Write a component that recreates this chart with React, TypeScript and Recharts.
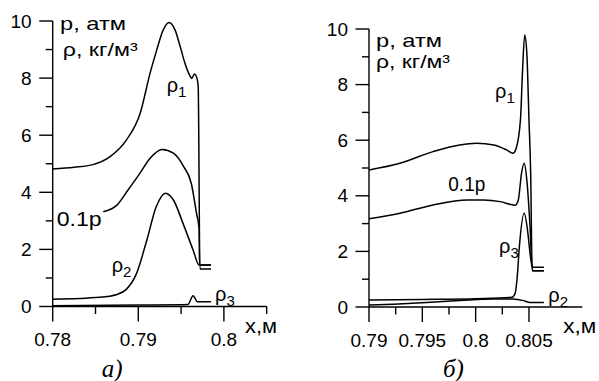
import { LineChart, Line, XAxis, YAxis } from 'recharts'

// panel а) — x, м
const xRho1A = [0.78, 0.7825, 0.7847, 0.7867, 0.7886, 0.7902, 0.7914, 0.79215, 0.7929, 0.7936, 0.7943, 0.7949, 0.79545, 0.796, 0.79625, 0.79655, 0.7968, 0.797, 0.7972, 0.7985]
const rho1A = [4.82, 4.88, 4.97, 5.25, 5.83, 6.75, 8.2, 8.98, 9.68, 9.95, 9.68, 9.1, 8.52, 8.1, 7.99, 8.14, 8.05, 7.7, 1.31, 1.31]
const xPA = [0.7859, 0.7875, 0.7888, 0.7902, 0.7914, 0.7928, 0.7941, 0.7953, 0.7962, 0.7968, 0.7971, 0.79715, 0.7985]
const pA = [3.32, 3.55, 4.08, 4.67, 5.2, 5.5, 5.37, 4.9, 4.3, 3.26, 2.74, 1.45, 1.45]
const xRho2A = [0.78, 0.7855, 0.7875, 0.7886, 0.7898, 0.791, 0.7921, 0.7932, 0.7941, 0.7953, 0.7964, 0.7971, 0.7985]
const rho2A = [0.25, 0.32, 0.42, 0.6, 1.16, 2.33, 3.5, 3.97, 3.73, 2.85, 1.98, 1.45, 1.45]
const xRho3A = [0.78, 0.79, 0.7958, 0.7964, 0.7969, 0.7985]
const rho3A = [0.03, 0.05, 0.07, 0.38, 0.17, 0.17]

// panel б)
const xRho1B = [0.79, 0.7929, 0.796, 0.7985, 0.8001, 0.8017, 0.8029, 0.8035, 0.8038, 0.8042, 0.8044, 0.8046, 0.8048, 0.805, 0.80516, 0.8053, 0.8064]
const rho1B = [4.93, 5.17, 5.59, 5.83, 5.89, 5.83, 5.65, 5.53, 5.71, 6.73, 8.53, 9.78, 9.12, 6.73, 4.8, 1.3, 1.3]
const xPB = [0.79, 0.7929, 0.796, 0.7992, 0.8007, 0.8023, 0.8035, 0.8037, 0.804, 0.8043, 0.80455, 0.8048, 0.8051, 0.8053, 0.8064]
const pB = [3.17, 3.37, 3.67, 3.85, 3.85, 3.79, 3.67, 3.66, 3.85, 4.81, 5.17, 4.57, 2.89, 1.43, 1.43]
const xRho3B = [0.79, 0.795, 0.8, 0.8034, 0.8037, 0.8039, 0.8041, 0.80455, 0.8049, 0.8051, 0.8054, 0.8064]
const rho3B = [0.25, 0.27, 0.3, 0.35, 0.49, 1.09, 2.17, 3.37, 2.65, 1.93, 1.3, 1.3]
const xRho2B = [0.79, 0.7923, 0.7954, 0.7985, 0.8017, 0.8035, 0.8045, 0.8051, 0.8064]
const rho2B = [0.07, 0.1, 0.16, 0.23, 0.29, 0.29, 0.23, 0.16, 0.16]

const xTicksA = [0.78, 0.785, 0.79, 0.795, 0.8, 0.805]
const xMajorA = [0.78, 0.79, 0.8]
const xTicksB = [0.79, 0.7925, 0.795, 0.7975, 0.8, 0.8025, 0.805]
const xMajorB = [0.79, 0.795, 0.8, 0.805]
const yTicks = [0, 1, 2, 3, 4, 5, 6, 7, 8, 9, 10]

const FONT = '"Liberation Sans", Arial, sans-serif'
const SERIF = '"Liberation Serif", "Times New Roman", serif'

const zip = (xs: number[], vs: number[]) => xs.map((x, i) => ({ x, v: vs[i] }))

const isIn = (list: number[], v: number) => list.some(m => Math.abs(m - v) < 1e-7)

const XTick = ({ x, y, payload, majors }: any) => {
  const major = isIn(majors, payload.value)
  return (
    <g>
      <line x1={x} y1={y} x2={x} y2={y + (major ? 15 : 7.5)} stroke="#000" strokeWidth={1.4} />
      {major && (
        <text x={x} y={y + 39.8} textAnchor="middle" fontSize={19} fontFamily={FONT} fill="#000">
          {String(Number(payload.value.toFixed(4)))}
        </text>
      )}
    </g>
  )
}

const YTick = ({ x, y, payload }: any) => {
  const major = payload.value % 2 === 0
  return (
    <g>
      <line x1={x - (major ? 13.5 : 7)} y1={y} x2={x} y2={y} stroke="#000" strokeWidth={1.4} />
      {major && (
        <text x={x - 21} y={y + 6.6} textAnchor="end" fontSize={19} fontFamily={FONT} fill="#000">
          {payload.value}
        </text>
      )}
    </g>
  )
}

const Panel = ({ left, width, margin, domain, ticks, majors, series }: any) => (
  <div style={{ position: 'absolute', left, top: 0 }}>
    <LineChart width={width} height={381} margin={margin}>
      <XAxis
        type="number"
        dataKey="x"
        domain={domain}
        ticks={ticks}
        interval={0}
        allowDataOverflow
        height={30}
        tickSize={0}
        tickMargin={0}
        axisLine={{ stroke: '#000', strokeWidth: 1.4 }}
        tick={(p: any) => <XTick {...p} majors={majors} />}
      />
      <YAxis
        type="number"
        dataKey="v"
        domain={[0, 10]}
        ticks={yTicks}
        interval={0}
        allowDataOverflow
        width={40}
        tickSize={0}
        tickMargin={0}
        axisLine={{ stroke: '#000', strokeWidth: 1.4 }}
        tick={(p: any) => <YTick {...p} />}
      />
      {series.map((s: any, i: number) => (
        <Line
          key={i}
          data={s}
          dataKey="v"
          type="monotone"
          stroke="#000"
          strokeWidth={1.5}
          dot={false}
          isAnimationActive={false}
        />
      ))}
    </LineChart>
  </div>
)

const Rho = ({ x, y, sub }: { x: number; y: number; sub: string }) => (
  <text x={x} y={y} fontSize={20} fontFamily={FONT} fill="#000">
    ρ<tspan fontSize={15} dy={5}>{sub}</tspan>
  </text>
)

export default function App() {
  return (
    <div style={{ position: 'absolute', left: 0, top: 0, width: 599, height: 381, background: '#fff' }}>
      <Panel
        left={0}
        width={300}
        margin={{ top: 21, left: 12.7, right: 33.3, bottom: 44.5 }}
        domain={[0.78, 0.805]}
        ticks={xTicksA}
        majors={xMajorA}
        series={[zip(xRho1A, rho1A), zip(xPA, pA), zip(xRho2A, rho2A), zip(xRho3A, rho3A)]}
      />
      <Panel
        left={300}
        width={299}
        margin={{ top: 29, left: 29, right: 16.7, bottom: 44 }}
        domain={[0.79, 0.81]}
        ticks={xTicksB}
        majors={xMajorB}
        series={[zip(xRho1B, rho1B), zip(xPB, pB), zip(xRho3B, rho3B), zip(xRho2B, rho2B)]}
      />
      <svg width={599} height={381} style={{ position: 'absolute', left: 0, top: 0, pointerEvents: 'none' }}>
        <text x={60} y={29.5} fontSize={19} fontFamily={FONT} textLength={66} lengthAdjust="spacingAndGlyphs">p, атм</text>
        <text x={62.7} y={56} fontSize={19} fontFamily={FONT} textLength={75} lengthAdjust="spacingAndGlyphs">ρ, кг/м³</text>
        <text x={376} y={46.7} fontSize={19} fontFamily={FONT} textLength={66} lengthAdjust="spacingAndGlyphs">p, атм</text>
        <text x={376} y={68} fontSize={19} fontFamily={FONT} textLength={74} lengthAdjust="spacingAndGlyphs">ρ, кг/м³</text>

        <Rho x={166.7} y={91.5} sub="1" />
        <Rho x={111.7} y={271.5} sub="2" />
        <Rho x={215} y={300.5} sub="3" />
        <text x={56.7} y={225.5} fontSize={21} fontFamily={FONT} textLength={45} lengthAdjust="spacingAndGlyphs">0.1p</text>

        <Rho x={495} y={97.5} sub="1" />
        <Rho x={499} y={253} sub="3" />
        <Rho x={548.3} y={301.5} sub="2" />
        <text x={448.3} y={190.5} fontSize={20} fontFamily={FONT} textLength={37} lengthAdjust="spacingAndGlyphs">0.1p</text>

        <text x={245} y={333.3} fontSize={21} fontFamily={FONT} textLength={32} lengthAdjust="spacingAndGlyphs">x,м</text>
        <text x={563.3} y={333.3} fontSize={21} fontFamily={FONT} textLength={33} lengthAdjust="spacingAndGlyphs">x,м</text>

        <text x={101.7} y={377} fontSize={25} fontFamily={SERIF} fontStyle="italic">а)</text>
        <text x={443} y={377} fontSize={25} fontFamily={SERIF} fontStyle="italic">б)</text>
      </svg>
    </div>
  )
}
